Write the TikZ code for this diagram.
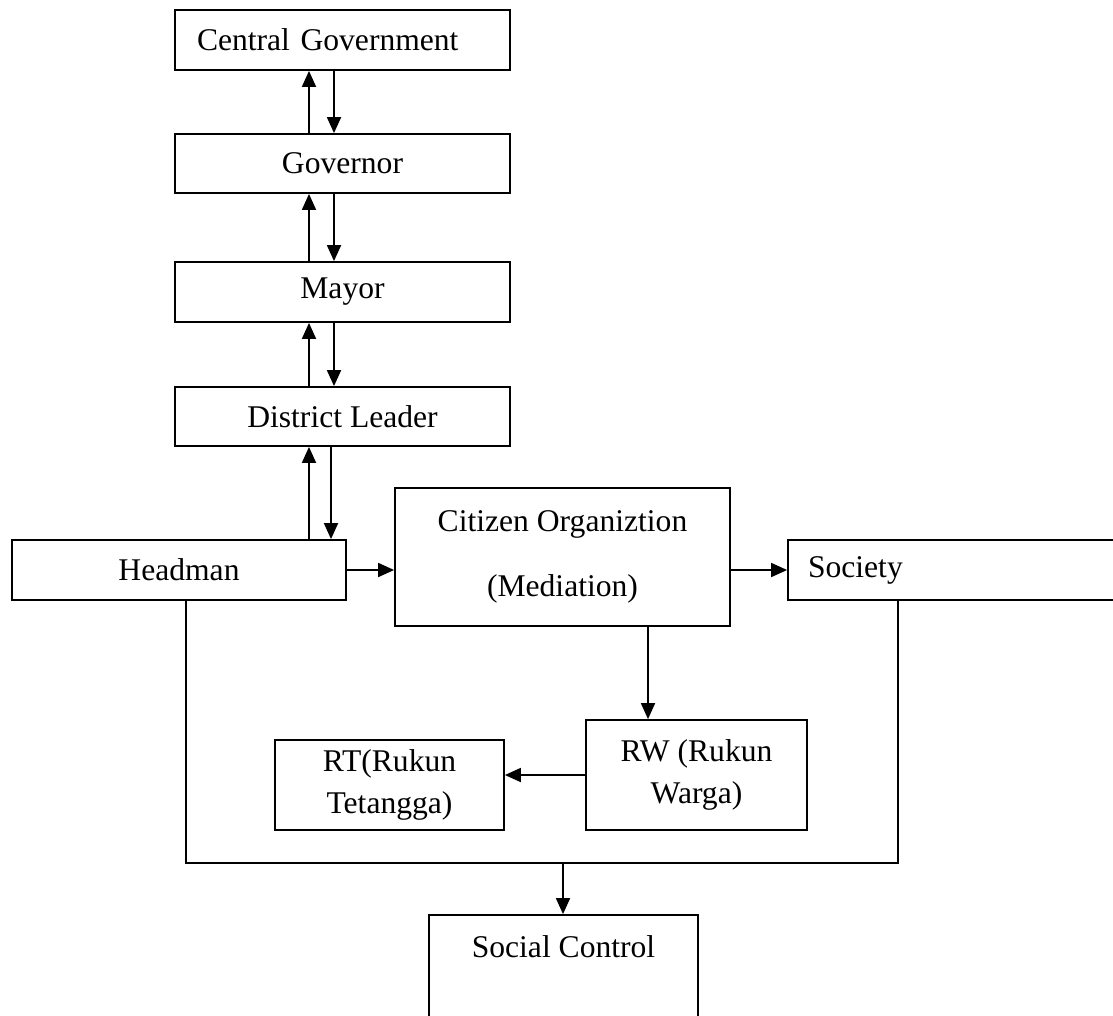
\documentclass[tikz,border=0pt]{standalone}
\usepackage{fontspec}
\setmainfont{Liberation Serif}
\usetikzlibrary{arrows.meta}
\begin{document}
\begin{tikzpicture}[x=1pt,y=-1pt,
  box/.style={draw,line width=1.8pt,inner sep=0pt,font=\fontsize{31.6}{40}\selectfont},
  lbl/.style={inner sep=0pt,font=\fontsize{31.6}{40}\selectfont},
  link/.style={line width=1.8pt},
  arr/.style={line width=1.8pt,-{Triangle[length=16pt,width=14pt]}}]
\useasboundingbox (0,0) rectangle (1113,1015);
\clip (0,0) rectangle (1113,1015);
% boxes
\node[box,minimum width=335pt,minimum height=60pt,text width=291pt,align=left,inner xsep=22pt] (cg) at (342.5,40) {Central Government};
\node[box,minimum width=335pt,minimum height=59pt] (gov) at (342.5,163.5) {Governor};
\node[box,minimum width=335pt,minimum height=60pt] (mayor) at (342.5,292) {Mayor};
\node[box,minimum width=335pt,minimum height=59pt] (dist) at (342.5,416.5) {District Leader};
\node[box,minimum width=334pt,minimum height=60pt] (head) at (179,570) {Headman};
\node[box,minimum width=335pt,minimum height=138pt,align=center,font=\fontsize{31.6}{65}\selectfont] (cit) at (562.5,557) {Citizen Organiztion\\(Mediation)};
\node[box,minimum width=342pt,minimum height=60pt,text width=302pt,align=left,inner xsep=20pt] (soc) at (959,570) {Society};
\node[box,minimum width=229pt,minimum height=90pt,align=center,font=\fontsize{31.6}{42}\selectfont] (rt) at (389.5,785) {RT(Rukun\\Tetangga)};
\node[box,minimum width=221pt,minimum height=110pt,align=center,font=\fontsize{31.6}{42}\selectfont] (rw) at (696.5,775) {RW (Rukun\\Warga)};
\node[draw,line width=1.8pt,minimum width=269pt,minimum height=140pt,inner sep=0pt] (sc) at (563.5,985) {};
\node[lbl] (sclbl) at (563.5,947) {Social Control};
% helper coordinates
\coordinate (up) at (309,0);
\coordinate (dn) at (334,0);
\coordinate (dn2) at (331,0);
\coordinate (lx) at (186,0);
\coordinate (rx) at (898,0);
\coordinate (by) at (0,863);
\coordinate (mx) at (563,0);
\coordinate (vx) at (648,0);
% vertical chain
\draw[arr] (gov.north -| up) -- (cg.south -| up);
\draw[arr] (cg.south -| dn) -- (gov.north -| dn);
\draw[arr] (mayor.north -| up) -- (gov.south -| up);
\draw[arr] (gov.south -| dn) -- (mayor.north -| dn);
\draw[arr] (dist.north -| up) -- (mayor.south -| up);
\draw[arr] (mayor.south -| dn) -- (dist.north -| dn);
\draw[arr] (head.north -| up) -- (dist.south -| up);
\draw[arr] (dist.south -| dn2) -- (head.north -| dn2);
% horizontal flow
\draw[arr] (head.east) -- (head.east -| cit.west);
\draw[arr] (soc.west -| cit.east) -- (soc.west);
\draw[arr] (cit.south -| vx) -- (rw.north -| vx);
\draw[arr] (rw.west) -- (rw.west -| rt.east);
% bottom frame
\draw[link] (head.south -| lx) -- (lx |- by) -- (rx |- by) -- (soc.south -| rx);
\draw[arr] (mx |- by) -- (sc.north -| mx);
\end{tikzpicture}
\end{document}
